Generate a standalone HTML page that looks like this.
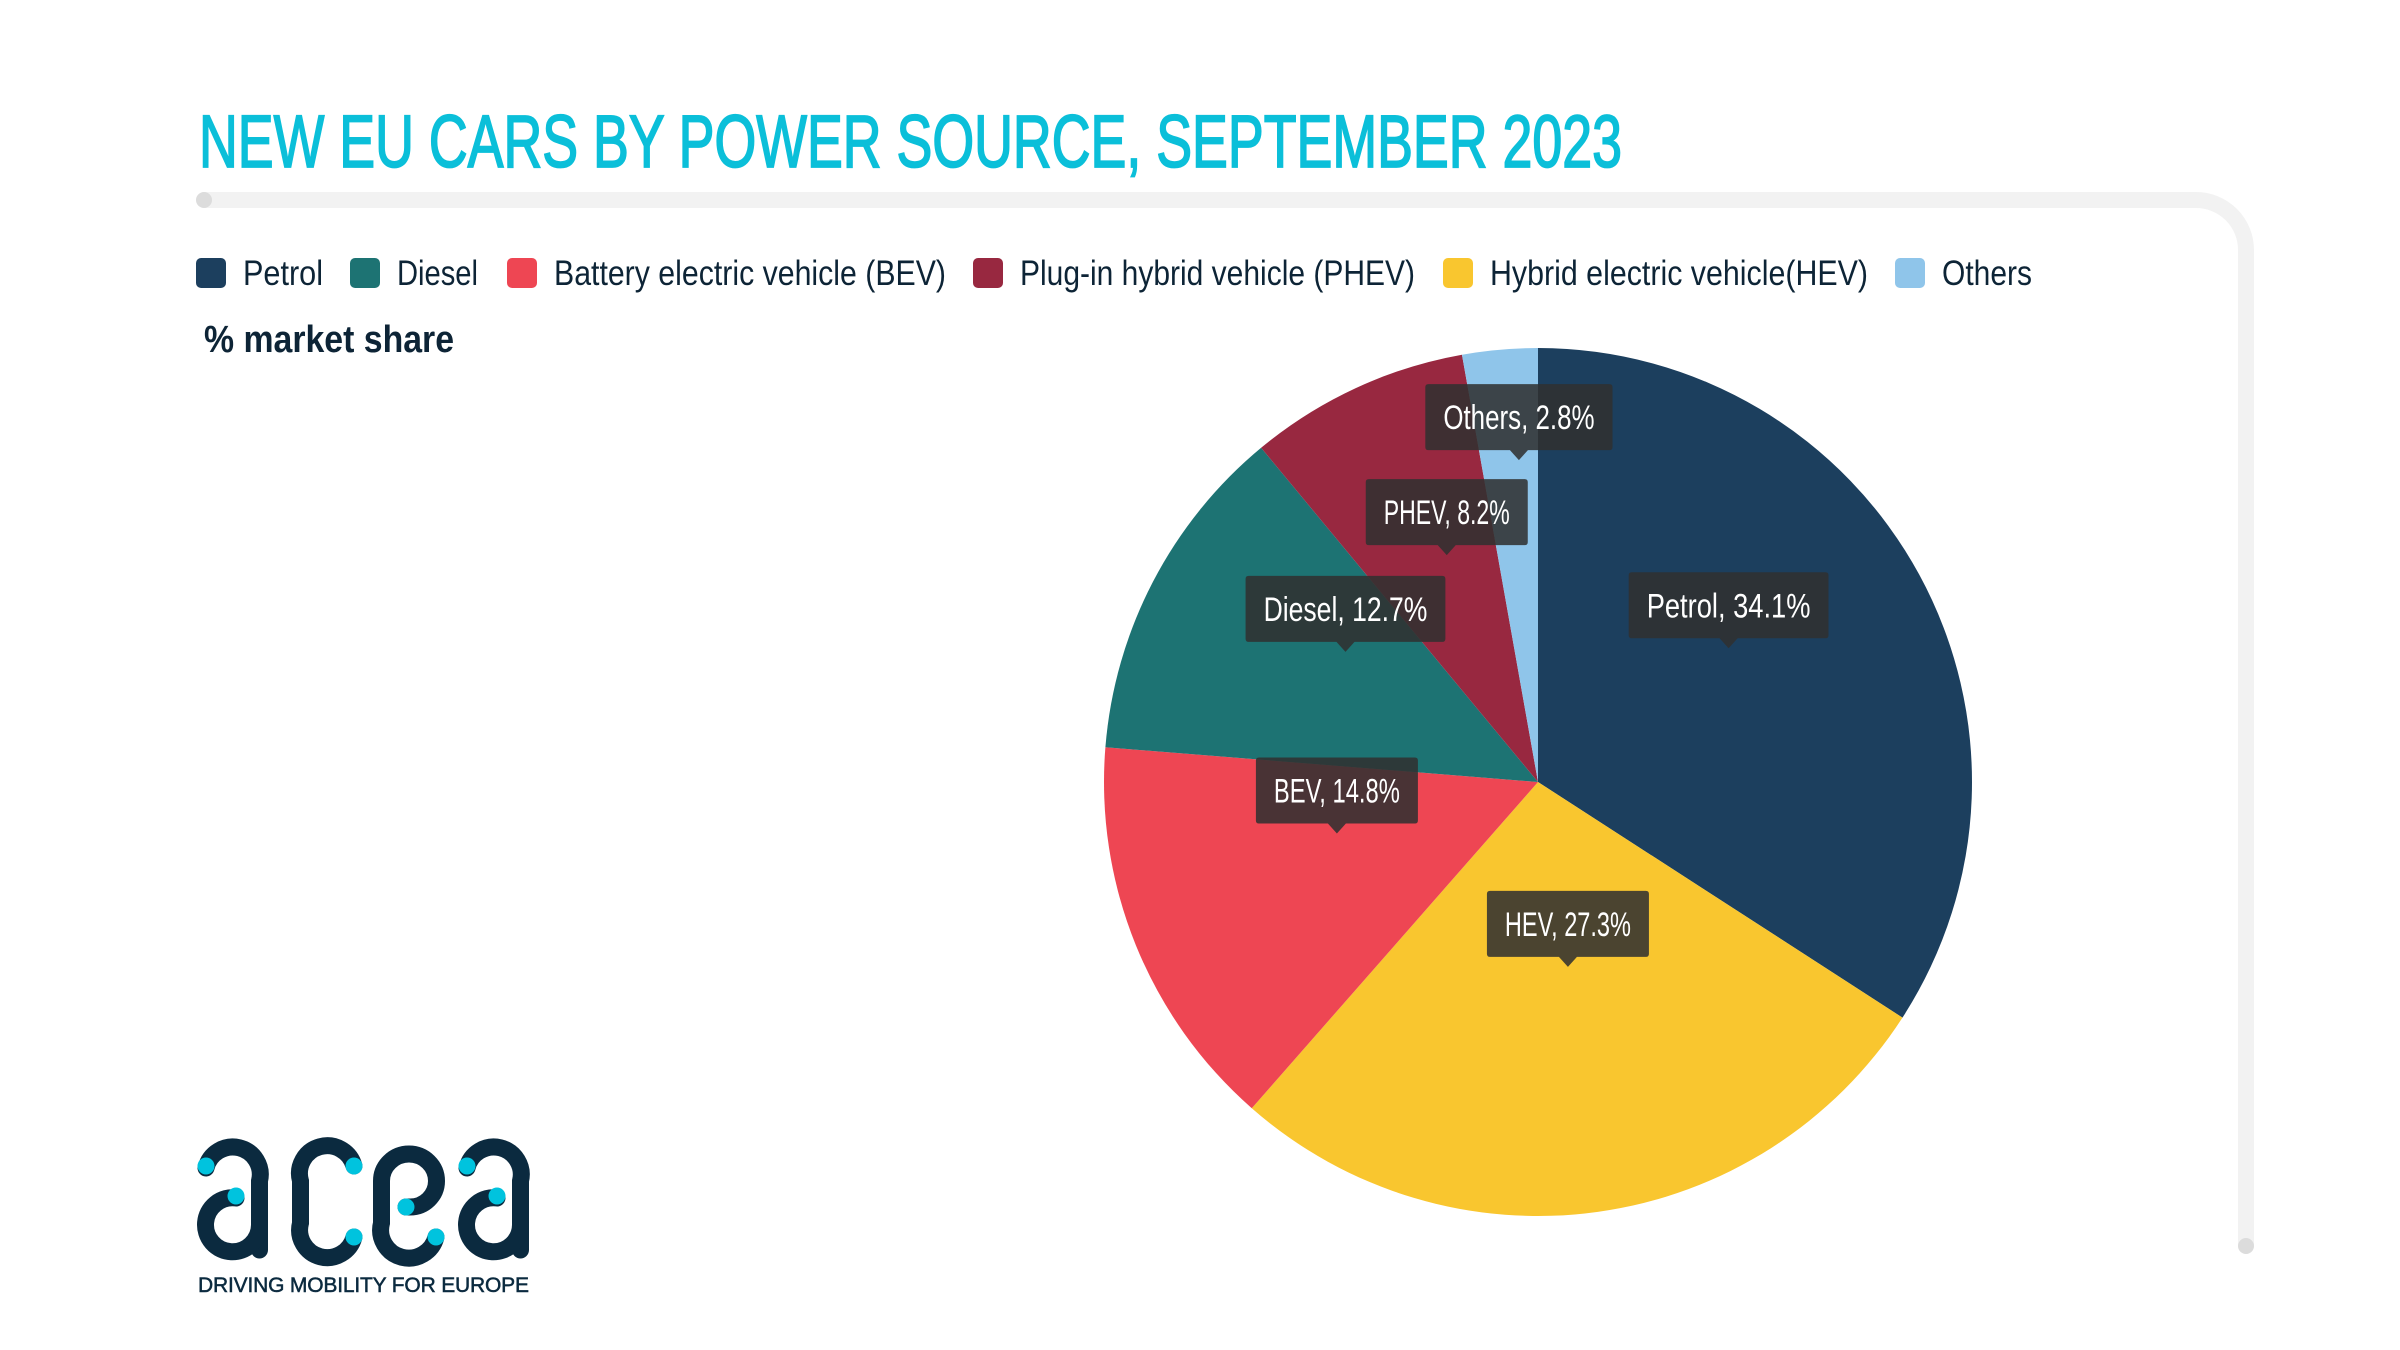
<!DOCTYPE html>
<html><head><meta charset="utf-8">
<style>
html,body{margin:0;padding:0;background:#fff;width:2400px;height:1350px;overflow:hidden}
svg{display:block}
text{font-family:"Liberation Sans Narrow","Liberation Sans",sans-serif}
</style></head>
<body>
<svg id="chart" width="2400" height="1350" viewBox="0 0 2400 1350" xmlns="http://www.w3.org/2000/svg">
  <text x="199" y="167" font-size="74" fill="#0bbfd9" stroke="#0bbfd9" stroke-width="1.8" textLength="1423" lengthAdjust="spacingAndGlyphs">NEW EU CARS BY POWER SOURCE, SEPTEMBER 2023</text>
  <path d="M204,200 L2196,200 A50,50 0 0 1 2246,250 L2246,1246" fill="none" stroke="#f2f2f2" stroke-width="16"/>
  <circle cx="204" cy="200" r="8" fill="#dcdcdc"/>
  <circle cx="2246" cy="1246" r="8" fill="#dcdcdc"/>
  <g id="legend"></g>
  <text x="204" y="352" font-size="38" font-weight="bold" fill="#0d2436" textLength="250" lengthAdjust="spacingAndGlyphs">% market share</text>
  <g id="pie"></g>
  <g id="labels"></g>
  <g transform="translate(0,4)">
    <g fill="none" stroke="#0b2a3f" stroke-width="17" stroke-linecap="round">
      <g>
        <path d="M206,1164 A27,27 0 0 1 259.5,1177 L259.5,1246"/>
        <path d="M236,1194 A27,27 0 1 0 259.5,1221"/>
      </g>
      <path d="M354,1162 A27,27 0 0 0 300.5,1177 L300.5,1219 A27,27 0 0 0 354,1233"/>
      <path d="M406,1203 L410,1203 A26.5,26 0 0 0 436.5,1177 A27.5,27 0 0 0 381.5,1177 L381.5,1219 A27,27 0 0 0 436,1233"/>
      <g transform="translate(261,0)">
        <path d="M206,1164 A27,27 0 0 1 259.5,1177 L259.5,1246"/>
        <path d="M236,1194 A27,27 0 1 0 259.5,1221"/>
      </g>
    </g>
    <g fill="#00c3de">
      <circle cx="206" cy="1162" r="8.5"/><circle cx="236" cy="1192" r="8.5"/>
      <circle cx="354" cy="1162" r="8.5"/><circle cx="354" cy="1233" r="8.5"/>
      <circle cx="406" cy="1203" r="8.5"/><circle cx="436" cy="1233" r="8.5"/>
      <circle cx="467" cy="1162" r="8.5"/><circle cx="497" cy="1192" r="8.5"/>
    </g>
    <text x="198" y="1288" font-size="21" fill="#0b2a3f" stroke="#0b2a3f" stroke-width="0.5" font-family="Liberation Sans, sans-serif" textLength="331" lengthAdjust="spacing">DRIVING MOBILITY FOR EUROPE</text>
  </g>
</svg>
<script>
const categories = ["Petrol","HEV","BEV","Diesel","PHEV","Others"];
const shares = [34.1, 27.3, 14.8, 12.7, 8.2, 2.8];
const colors = ["#1c3f5e","#f9c62f","#ee4653","#1d7373","#982840","#8fc5ea"];
const legendNames = ["Petrol","Diesel","Battery electric vehicle (BEV)","Plug-in hybrid vehicle (PHEV)","Hybrid electric vehicle(HEV)","Others"];
const legendColors = ["#1c3f5e","#1d7373","#ee4653","#982840","#f9c62f","#8fc5ea"];

const NS = "http://www.w3.org/2000/svg";
const cx = 1538, cy = 782, R = 434;
function mk(tag, attrs, parent){ const e=document.createElementNS(NS,tag); for(const k in attrs) e.setAttribute(k,attrs[k]); parent.appendChild(e); return e; }
function pt(frac, r){ const a = frac*2*Math.PI; return [cx + r*Math.sin(a), cy - r*Math.cos(a)]; }

// legend
const lg = document.getElementById('legend');
const legendX = [196, 350, 507, 973, 1443, 1895];
const legendW = [80, 81, 392, 395, 378, 90];
legendNames.forEach((n,i)=>{
  const g = mk('g',{},lg);
  
  
  mk('rect',{x:legendX[i],y:258,width:30,height:30,rx:5,fill:legendColors[i]},g);
  const t = mk('text',{x:legendX[i]+47,y:285,'font-size':35,fill:'#0d2436',textLength:legendW[i],lengthAdjust:'spacingAndGlyphs'},g);
  t.textContent = n;
});

// pie
const total = shares.reduce((a,b)=>a+b,0);
const pie = document.getElementById('pie');
const lab = document.getElementById('labels');
let acc = 0;
const placed = [];
shares.forEach((v,i)=>{
  const f0 = acc/total, f1 = (acc+v)/total; acc += v;
  const [x0,y0] = pt(f0,R), [x1,y1] = pt(f1,R);
  const large = (f1-f0) > 0.5 ? 1 : 0;
  const p = mk('path',{d:`M${cx},${cy} L${x0},${y0} A${R},${R} 0 ${large} 1 ${x1},${y1} Z`, fill:colors[i]}, pie);
  
  
  // label
  const [ax, ay] = pt((f0+f1)/2, R*0.5);
  let tipY = ay - 30;
  const txt = categories[i] + ", " + v.toFixed(1) + "%";
  const tw = txt.length*12.6;
  const w = tw + 36, h = 66;
  let top = tipY - 10 - h, left = ax - w/2;
  placed.forEach(b=>{
    if (left < b.x+b.w && left+w > b.x && top < b.y+b.h && top+h > b.y){ top = b.y - 29 - h; }
  });
  tipY = top + h + 10;
  placed.push({x:left,y:top,w:w,h:h});
  const g = mk('g',{},lab);
  
  
  mk('path',{d:`M${left+3},${top} H${left+w-3} Q${left+w},${top} ${left+w},${top+3} V${top+h-3} Q${left+w},${top+h} ${left+w-3},${top+h} H${ax+9} L${ax},${tipY} L${ax-9},${top+h} H${left+3} Q${left},${top+h} ${left},${top+h-3} V${top+3} Q${left},${top} ${left+3},${top} Z`, fill:'rgba(48,48,48,0.87)'}, g);
  const t = mk('text',{x:ax,y:top+h/2+12,'font-size':34,fill:'#ffffff','text-anchor':'middle',textLength:tw,lengthAdjust:'spacingAndGlyphs'},g);
  t.textContent = txt;
});
</script>
</body></html>
